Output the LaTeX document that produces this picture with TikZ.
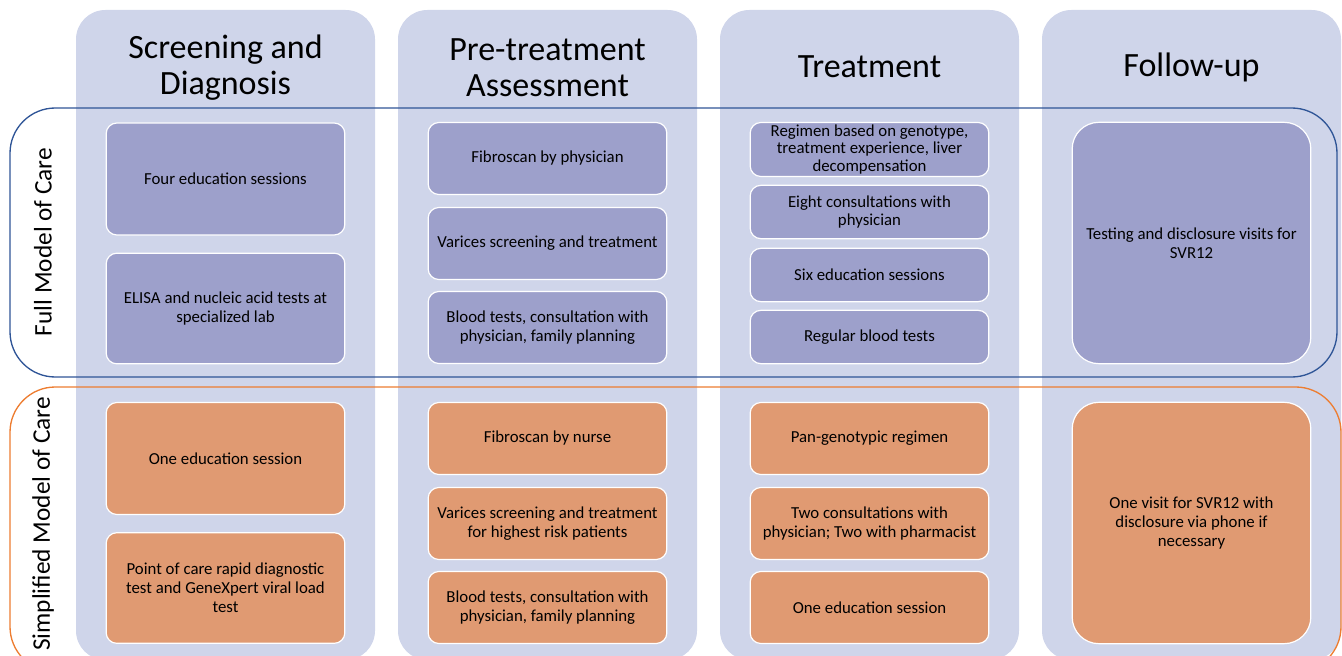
\documentclass[tikz,border=0pt]{standalone}
\usepackage{fontspec}
\setmainfont{Carlito}
\definecolor{colbg}{HTML}{CFD5EA}
\definecolor{fullfill}{HTML}{9DA0CB}
\definecolor{simplefill}{HTML}{E09A72}
\definecolor{fullline}{HTML}{2F5597}
\definecolor{simpleline}{HTML}{ED7D31}
\tikzset{
	column/.style={fill=colbg, rounded corners=22pt},
	fullbox/.style={draw=white, line width=0.9pt, fill=fullfill, rounded corners=8pt,
		minimum width=179pt, inner sep=1pt, align=center,
		font=\fontsize{12.6}{14.2}\selectfont},
	simplebox/.style={fullbox, fill=simplefill},
	heading/.style={align=center, font=\fontsize{25.5}{27}\selectfont},
	rowlabel/.style={rotate=90, font=\fontsize{19}{20}\selectfont}
}
\begin{document}
\begin{tikzpicture}[x=0.75pt, y=-0.75pt]
	\useasboundingbox (0,0) rectangle (1342,656);
	% columns
	\foreach \cx in {76,398,720,1042}
		\fill[column] (\cx,10) rectangle ++(299,650);
	\node[heading] (h1) at (225.5,68) {Screening and\\Diagnosis};
	\node[heading] (h2) at (547.5,68) {Pre-treatment\\Assessment};
	\node[heading] (h3) at (869.5,67) {Treatment};
	\node[heading] (h4) at (1191.5,67) {Follow-up};

	% model outlines
	\draw[fullline, line width=1pt, rounded corners=34pt] (10,108) rectangle (1337,377);
	\draw[simpleline, line width=1pt, rounded corners=34pt] (10,387) rectangle (1341,672);
	\node[rowlabel] (full) at (43,242) {Full Model of Care};
	\node[rowlabel] (simple) at (43,524) {Simplified Model of Care};

	% full model
	\node[fullbox, minimum height=84pt] (f11) at (225.5,179) {Four education sessions};
	\node[fullbox, minimum height=83pt] (f12) at (225.5,308.5) {ELISA and nucleic acid tests at\\specialized lab};
	\node[fullbox, minimum height=54pt] (f21) at (547.5,158.5) {Fibroscan by physician};
	\node[fullbox, minimum height=54pt] (f22) at (547.5,243.5) {Varices screening and treatment};
	\node[fullbox, minimum height=54pt] (f23) at (547.5,327.5) {Blood tests, consultation with\\physician, family planning};
	\node[fullbox, minimum height=40.5pt, font=\fontsize{12.6}{13.4}\selectfont] (f31) at (869.5,149.5) {Regimen based on genotype,\\treatment experience, liver\\decompensation};
	\node[fullbox, minimum height=40pt] (f32) at (869.5,212) {Eight consultations with\\physician};
	\node[fullbox, minimum height=40pt] (f33) at (869.5,275) {Six education sessions};
	\node[fullbox, minimum height=40pt] (f34) at (869.5,337) {Regular blood tests};
	\node[fullbox, rounded corners=20pt, minimum height=181pt] (f41) at (1191.5,243) {Testing and disclosure visits for\\SVR12};

	% simplified model
	\node[simplebox, minimum height=84pt] (s11) at (225.5,458.5) {One education session};
	\node[simplebox, minimum height=83pt] (s12) at (225.5,588) {Point of care rapid diagnostic\\test and GeneXpert viral load\\test};
	\node[simplebox, minimum height=54pt] (s21) at (547.5,438.5) {Fibroscan by nurse};
	\node[simplebox, minimum height=54pt] (s22) at (547.5,523.5) {Varices screening and treatment\\for highest risk patients};
	\node[simplebox, minimum height=54pt] (s23) at (547.5,607.5) {Blood tests, consultation with\\physician, family planning};
	\node[simplebox, minimum height=54pt] (s31) at (869.5,438.5) {Pan-genotypic regimen};
	\node[simplebox, minimum height=54pt] (s32) at (869.5,523.5) {Two consultations with\\physician; Two with pharmacist};
	\node[simplebox, minimum height=54pt] (s33) at (869.5,607.5) {One education session};
	\node[simplebox, rounded corners=20pt, minimum height=181pt] (s41) at (1191.5,523) {One visit for SVR12 with\\disclosure via phone if\\necessary};
\end{tikzpicture}
\end{document}
